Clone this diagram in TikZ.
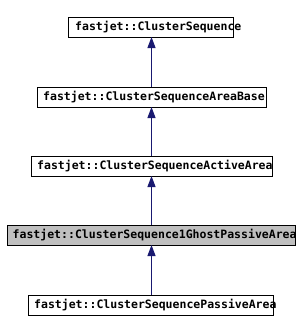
\documentclass[tikz,border=0pt]{standalone}
\usepackage{fontspec}
\setmonofont{DejaVu Sans Mono}
\usetikzlibrary{arrows.meta}
\definecolor{edgeblue}{HTML}{191970}
\definecolor{boxgray}{HTML}{BFBFBF}
\begin{document}
\begin{tikzpicture}[x=1pt,y=-1pt,
  box/.style={draw=black, line width=1pt, minimum height=20pt, inner sep=0pt, outer sep=0pt},
  lbl/.style={anchor=west, inner sep=0pt, font=\ttfamily\bfseries\fontsize{11.5}{12}\selectfont},
  inh/.style={draw=edgeblue, line width=1pt, -{Triangle[width=8pt,length=11pt]}}]
\useasboundingbox (0,0) rectangle (300,332);
\coordinate (ax) at (151.5,0);
\node[box, minimum width=165pt] (b1) at (150.5,27) {};
\node[box, minimum width=229pt] (b2) at (151.5,97) {};
\node[box, minimum width=241pt] (b3) at (151.5,166) {};
\node[box, minimum width=288pt, fill=boxgray] (b4) at (151,235) {};
\node[box, minimum width=245pt] (b5) at (150.5,305) {};
\node[lbl] (t1) at ([xshift=7pt]b1.west) {fastjet::ClusterSequence};
\node[lbl] (t2) at ([xshift=6pt]b2.west) {fastjet::ClusterSequenceAreaBase};
\node[lbl] (t3) at ([xshift=6pt]b3.west) {fastjet::ClusterSequenceActiveArea};
\node[lbl] (t4) at ([xshift=5.5pt]b4.west) {fastjet::ClusterSequence1GhostPassiveArea};
\node[lbl] (t5) at ([xshift=6pt]b5.west) {fastjet::ClusterSequencePassiveArea};
\draw[inh] (b2.north -| ax) -- (b1.south -| ax);
\draw[inh] (b3.north -| ax) -- (b2.south -| ax);
\draw[inh] (b4.north -| ax) -- (b3.south -| ax);
\draw[inh] (b5.north -| ax) -- (b4.south -| ax);
\end{tikzpicture}
\end{document}
